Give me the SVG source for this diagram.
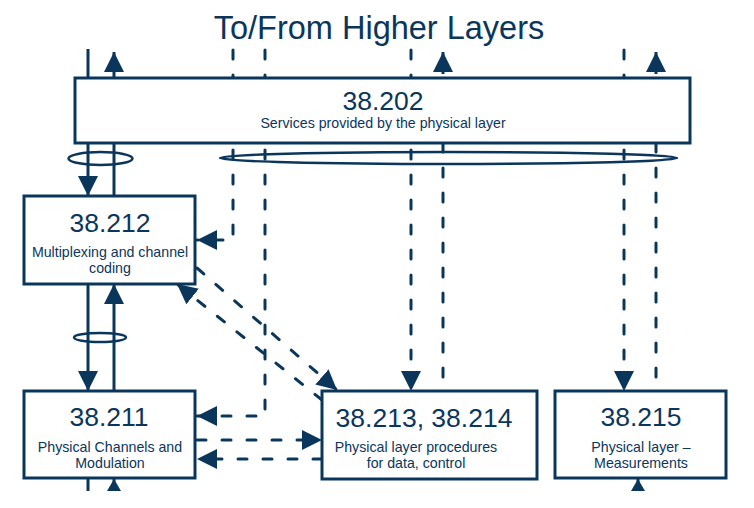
<svg xmlns="http://www.w3.org/2000/svg" width="754" height="508" viewBox="0 0 754 508">
<style>
.ln{fill:none;stroke:#0b365c;stroke-width:3}
.ds{fill:none;stroke:#0b365c;stroke-width:3;stroke-dasharray:9 16;stroke-linecap:round}
.el{fill:none;stroke:#0b365c;stroke-width:2.5}
.box{fill:#fff;stroke:#0b365c;stroke-width:3}
.hd{font-family:"Liberation Sans",Arial,sans-serif;font-size:26.5px;fill:#0b365c;text-anchor:middle}
.sb{font-family:"Liberation Sans",Arial,sans-serif;font-size:14.2px;fill:#0b365c;text-anchor:middle}
.tt{font-family:"Liberation Sans",Arial,sans-serif;font-size:32.5px;fill:#0b365c;text-anchor:middle}
</style>
<defs>
<marker id="ah" viewBox="0 0 20 20" markerUnits="userSpaceOnUse" markerWidth="20" markerHeight="20" refX="20" refY="10" orient="auto"><path d="M0,0 L20,10 L0,20 z" fill="#0b365c"/></marker>
<marker id="ahs" viewBox="0 0 12 14" markerUnits="userSpaceOnUse" markerWidth="12" markerHeight="14" refX="12" refY="7" orient="auto"><path d="M0,0 L12,7 L0,14 z" fill="#0b365c"/></marker>
</defs>
<rect width="754" height="508" fill="#fff"/>
<text class="tt" x="379" y="39">To/From Higher Layers</text>
<g id="connectors">
<path class="ln" d="M88,49 V196" marker-end="url(#ah)"/>
<path class="ln" d="M114,196 V52" marker-end="url(#ah)"/>
<path class="ds" d="M233,50 V240 H197" marker-end="url(#ah)"/>
<path class="ds" d="M265,50 V416 H197" marker-end="url(#ah)"/>
<path class="ds" d="M411,50 V391" marker-end="url(#ah)"/>
<path class="ln" d="M443,74 V52" marker-end="url(#ah)"/>
<path class="ds" d="M443,143 V391"/>
<path class="ds" d="M624,50 V391" marker-end="url(#ah)"/>
<path class="ln" d="M656,74 V52" marker-end="url(#ah)"/>
<path class="ds" d="M656,143 V391"/>
<ellipse class="el" cx="100.5" cy="158.5" rx="32" ry="6.5"/>
<ellipse class="el" cx="448.5" cy="158" rx="228.5" ry="6" stroke-width="3"/>
<path class="ln" d="M88,284 V391" marker-end="url(#ah)"/>
<path class="ln" d="M114,391 V284" marker-end="url(#ah)"/>
<ellipse class="el" cx="100" cy="337.5" rx="26" ry="4.5"/>
<path class="ln" d="M88,478 V491"/>
<path class="ln" d="M114,491 V479" marker-end="url(#ahs)"/>
<path class="ln" d="M638,491 V479" marker-end="url(#ahs)"/>
<path class="ds" d="M197,268 L337,390" marker-end="url(#ah)"/>
<path class="ds" d="M322,400 L177,284" marker-end="url(#ah)"/>
<path class="ds" d="M197,440 H322" marker-end="url(#ah)"/>
<path class="ds" d="M322,459 H197" marker-end="url(#ah)"/>
</g>
<g id="n38202">
<rect class="box" x="75" y="78" width="615" height="65"/>
<text class="hd" x="383" y="110">38.202</text>
<text class="sb" x="383" y="128">Services provided by the physical layer</text>
</g>
<g id="n38212">
<rect class="box" x="24" y="196" width="171" height="88"/>
<text class="hd" x="110" y="232">38.212</text>
<text class="sb" x="110" y="257">Multiplexing and channel</text>
<text class="sb" x="110" y="273">coding</text>
</g>
<g id="n38211">
<rect class="box" x="24" y="391" width="171" height="87"/>
<text class="hd" x="109" y="426">38.211</text>
<text class="sb" x="110" y="452">Physical Channels and</text>
<text class="sb" x="110" y="468">Modulation</text>
</g>
<g id="n38213">
<rect class="box" x="322" y="391" width="215" height="88"/>
<text class="hd" x="424" y="427">38.213, 38.214</text>
<text class="sb" x="416" y="452">Physical layer procedures</text>
<text class="sb" x="416" y="468">for data, control</text>
</g>
<g id="n38215">
<rect class="box" x="555" y="391" width="171" height="87"/>
<text class="hd" x="641" y="426">38.215</text>
<text class="sb" x="641" y="452">Physical layer –</text>
<text class="sb" x="641" y="468">Measurements</text>
</g>
</svg>
